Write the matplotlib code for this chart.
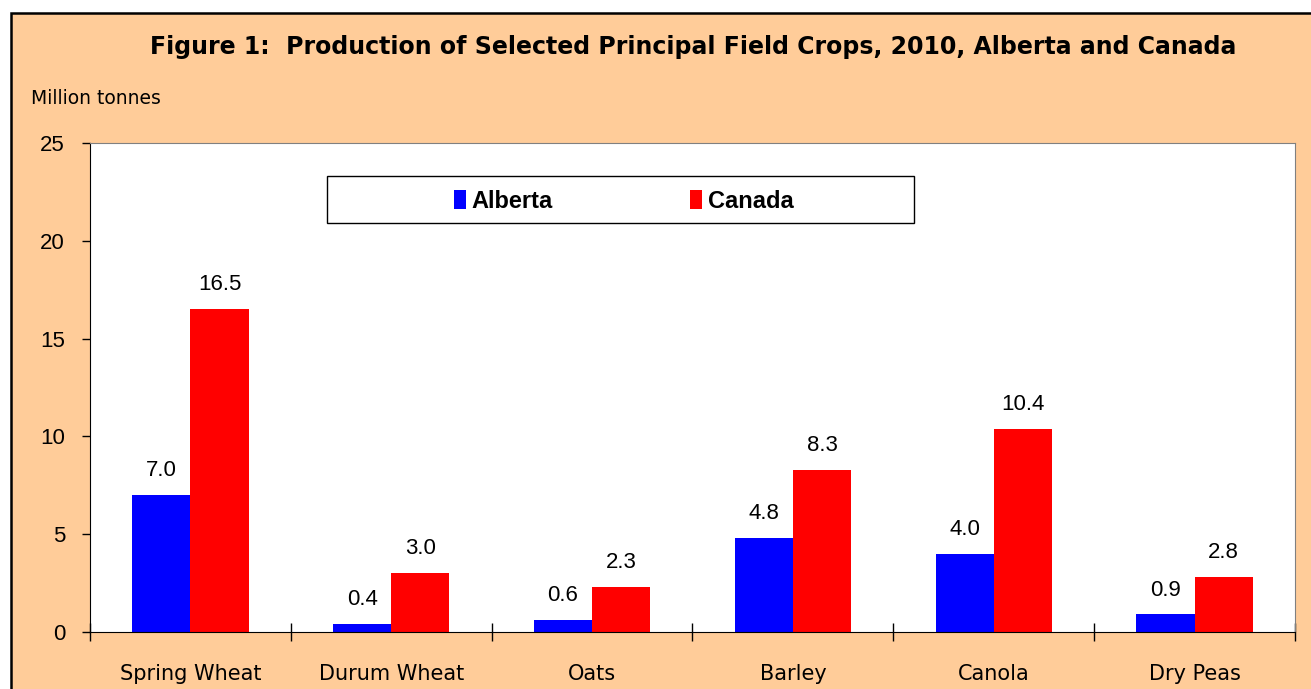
import matplotlib.pyplot as plt
from matplotlib.patches import Rectangle
import numpy as np

crops = ['Spring Wheat', 'Durum Wheat', 'Oats', 'Barley', 'Canola', 'Dry Peas']
alberta = [7.0, 0.4, 0.6, 4.8, 4.0, 0.9]
canada = [16.5, 3.0, 2.3, 8.3, 10.4, 2.8]

PEACH = '#FFCC99'
W, H = 1311, 689

fig = plt.figure(figsize=(W / 100, H / 100), dpi=100, facecolor='white')

# peach panel with black border along top and left
panel = Rectangle((11 / W, -0.1), 1.2, (H - 13) / H + 0.1, transform=fig.transFigure,
                  facecolor=PEACH, edgecolor='black', lw=1.8, zorder=-10)
fig.patches.append(panel)

ax = fig.add_axes([90 / W, (H - 632) / H, 1205 / W, 489 / H])
ax.set_facecolor('white')

x = np.arange(len(crops))
w = 0.29
b1 = ax.bar(x - w / 2, alberta, w, color='#0000FF', label='Alberta')
b2 = ax.bar(x + w / 2, canada, w, color='#FF0000', label='Canada')

for bars, vals in ((b1, alberta), (b2, canada)):
    for r, v in zip(bars, vals):
        ax.annotate(f'{v:.1f}', (r.get_x() + r.get_width() / 2, v),
                    xytext=(0, 10), textcoords='offset points',
                    ha='center', va='bottom', fontsize=16, family='Liberation Sans')

ax.set_xlim(-0.5, len(crops) - 0.5)
ax.set_ylim(0, 25)
ax.set_yticks(range(0, 26, 5))
ax.set_xticks(np.arange(-0.5, len(crops), 1.0))
ax.set_xticklabels([])
ax.set_xticks(x, minor=True)
ax.set_xticklabels(crops, minor=True, fontsize=15, family='DejaVu Sans')
ax.tick_params(axis='x', which='major', direction='inout', length=13, width=1)
ax.tick_params(axis='x', which='minor', length=0, pad=23)
ax.tick_params(axis='y', direction='out', length=6, width=1, pad=12,
               labelsize=16)
for lab in ax.get_yticklabels():
    lab.set_family('Liberation Sans')

for s in ('top', 'right'):
    ax.spines[s].set_color('#808080')
for s in ('left', 'bottom'):
    ax.spines[s].set_color('black')

# legend box
ax.add_patch(Rectangle(((327 - 90) / 1205, (632 - 223) / 489), 587 / 1205, 47 / 489,
                       transform=ax.transAxes, facecolor='white', edgecolor='black',
                       lw=1, zorder=5))
leg = ax.legend(loc='center', bbox_to_anchor=(0.443, 0.881), ncol=2, frameon=False,
                handlelength=0.5, handleheight=0.8, handletextpad=0.25,
                columnspacing=5.8, prop={'family': 'Liberation Sans', 'weight': 'bold',
                                         'size': 17})
leg.set_zorder(6)

fig.text(693 / W, 1 - 47 / H,
         'Figure 1:  Production of Selected Principal Field Crops, 2010, Alberta and Canada',
         ha='center', va='center', fontsize=17, fontweight='bold', family='DejaVu Sans')
fig.text(31 / W, 1 - 98 / H, 'Million tonnes', ha='left', va='center',
         fontsize=13.5, family='DejaVu Sans')

fig.savefig('out.png', dpi=100, facecolor='white')
